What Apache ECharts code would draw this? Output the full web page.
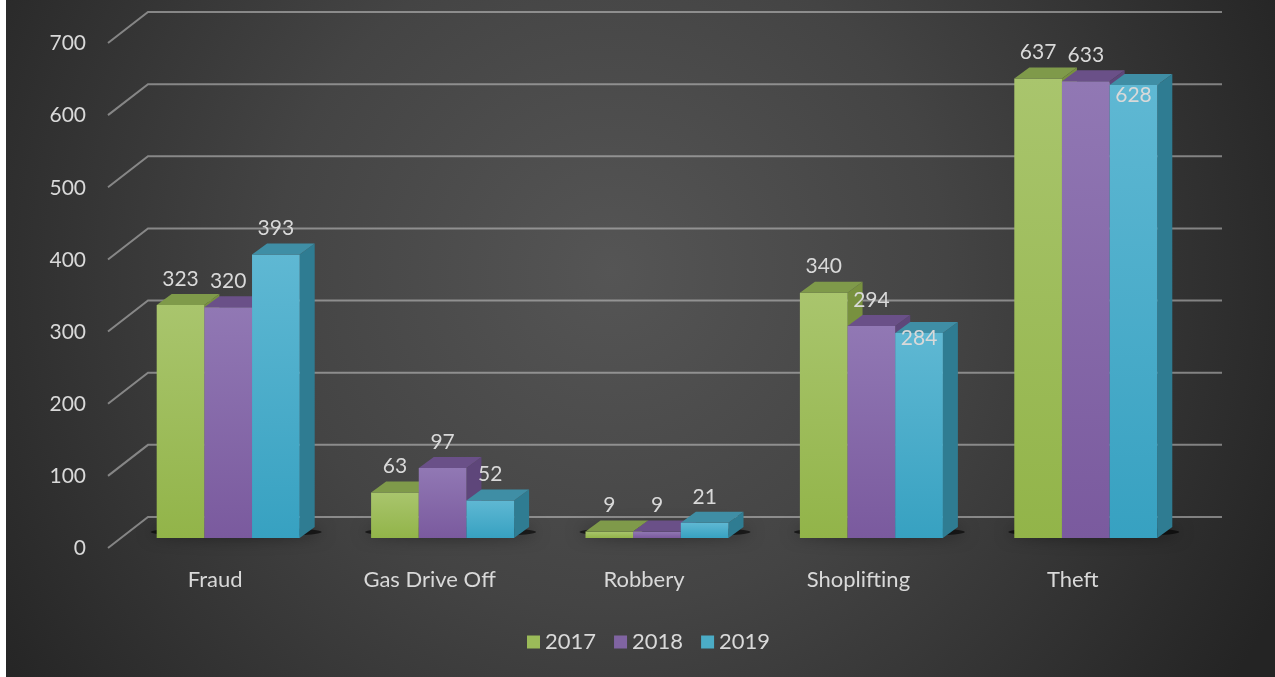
<!DOCTYPE html>
<html>
<head>
<meta charset="utf-8">
<script src="https://cdn.jsdelivr.net/npm/echarts@6/dist/echarts.min.js"></script>
<style>
  html, body { margin: 0; padding: 0; background: #fff; }
  #chart { position: absolute; left: 0; top: 0; width: 1275px; height: 677px; }
  #edge { position: absolute; left: 0; top: 0; width: 6px; height: 677px; background: #fff; }
</style>
</head>
<body>
<div id="chart"></div>
<div id="edge"></div>
<script>
// Incident counts by type and year
const categories = ['Fraud', 'Gas Drive Off', 'Robbery', 'Shoplifting', 'Theft'];
const years = ['2017', '2018', '2019'];
const values2017 = [323, 63, 9, 340, 637];
const values2018 = [320, 97, 9, 294, 633];
const values2019 = [393, 52, 21, 284, 628];
const yTicks = [0, 100, 200, 300, 400, 500, 600, 700];

const seriesValues = [values2017, values2018, values2019];

// Face colours for the extruded bars: front gradient (top, bottom), top face, side face
const palette = [
  { legend: '#9bbb59', front: ['#a9c56d', '#92b449'], top: '#7f9a4a', side: '#78913f' },
  { legend: '#8064a2', front: ['#9178b4', '#7a5a9e'], top: '#6a5088', side: '#5e467a' },
  { legend: '#4bacc6', front: ['#5fb8d3', '#37a1c1'], top: '#3f8ea5', side: '#2f7c92' }
];

const FONT = 'Lato, "Open Sans", sans-serif';
const TEXT = '#d9d9d9';
const DEPTH_X = 15, DEPTH_Y = -11;      // bar extrusion
const BAR_FILL = 0.667;                 // share of a category band used by the three bars
// labels that sit inside their bar to stay clear of neighbours
const labelsInside = { '3-2': 5, '4-2': 10 };

function barRenderer(k) {
  return function (params, api) {
    const ci = api.value(0);
    const v = api.value(1);
    const base = api.coord([ci, 0]);
    const top = api.coord([ci, v]);
    const band = api.size([1, 0])[0];
    const bw = band * BAR_FILL / 3;
    const x0 = base[0] - 1.5 * bw + k * bw;
    const x1 = x0 + bw;
    const ty = top[1], by = base[1];
    const c = palette[k];
    const key = ci + '-' + k;
    const labelY = labelsInside[key] !== undefined ? ty + labelsInside[key] : ty - 26;
    return {
      type: 'group',
      children: [
        {
          type: 'polygon',
          shape: { points: [[x1, ty], [x1 + DEPTH_X, ty + DEPTH_Y], [x1 + DEPTH_X, by + DEPTH_Y], [x1, by]] },
          style: { fill: c.side }
        },
        {
          type: 'rect',
          shape: { x: x0, y: ty, width: bw, height: by - ty },
          style: {
            fill: new echarts.graphic.LinearGradient(0, 0, 0, 1, [
              { offset: 0, color: c.front[0] },
              { offset: 1, color: c.front[1] }
            ])
          }
        },
        {
          type: 'polygon',
          shape: { points: [[x0, ty], [x1, ty], [x1 + DEPTH_X, ty + DEPTH_Y], [x0 + DEPTH_X, ty + DEPTH_Y]] },
          style: { fill: c.top }
        },
        {
          type: 'text',
          z2: 5,
          style: {
            text: String(v),
            x: (x0 + x1) / 2,
            y: labelY,
            align: 'center',
            verticalAlign: 'middle',
            fill: TEXT,
            fontSize: 21,
            fontFamily: FONT
          }
        }
      ]
    };
  };
}

// Soft floor shadow below each group of bars
function shadowRenderer(params, api) {
  const ci = api.value(0);
  const base = api.coord([ci, 0]);
  const band = api.size([1, 0])[0];
  const half = band * BAR_FILL / 2;
  return {
    type: 'ellipse',
    shape: { cx: base[0] + 8, cy: base[1] - 6, rx: half + 14, ry: 5 },
    style: { fill: 'rgba(0,0,0,0.6)', shadowBlur: 16, shadowColor: 'rgba(0,0,0,0.9)' }
  };
}

// Gridlines drawn as floor-to-wall polylines, one per tick
function gridRenderer(params, api) {
  const v = api.value(1);
  const p = api.coord([0, v]);
  const cs = params.coordSys;
  const y = p[1];
  return {
    type: 'polyline',
    shape: { points: [[cs.x - 13, y + 10], [cs.x + 27, y - 21], [cs.x + cs.width + 29, y - 21]] },
    style: { stroke: 'rgba(200,200,200,0.55)', lineWidth: 2, fill: null }
  };
}

const chart = echarts.init(document.getElementById('chart'));

const option = {
  animation: false,
  backgroundColor: new echarts.graphic.RadialGradient(0.48, 0.4, 1.1, [
    { offset: 0, color: '#555555' },
    { offset: 0.45, color: '#444444' },
    { offset: 1, color: '#242424' }
  ]),
  grid: { left: 121, right: 82, top: 33, bottom: 139 },
  legend: {
    data: years,
    left: 522,
    top: 626,
    icon: 'rect',
    itemWidth: 13,
    itemHeight: 13,
    itemGap: 18,
    textStyle: { color: TEXT, fontSize: 22, fontFamily: FONT }
  },
  xAxis: {
    type: 'category',
    data: categories,
    axisLine: { show: false },
    axisTick: { show: false },
    splitLine: { show: false },
    axisLabel: {
      color: TEXT,
      fontSize: 22,
      fontFamily: FONT,
      margin: 31,
      padding: [0, 26, 0, 0]
    }
  },
  yAxis: {
    type: 'value',
    min: yTicks[0],
    max: yTicks[yTicks.length - 1],
    interval: yTicks[1] - yTicks[0],
    axisLine: { show: false },
    axisTick: { show: false },
    splitLine: { show: false },
    axisLabel: {
      color: TEXT,
      fontSize: 21,
      fontFamily: FONT,
      margin: 35,
      verticalAlign: 'top'
    }
  },
  series: [
    {
      type: 'custom',
      name: 'grid',
      silent: true,
      z: 1,
      renderItem: gridRenderer,
      data: yTicks.map(v => [0, v]),
      encode: { x: 0, y: 1 }
    },
    {
      type: 'custom',
      name: 'floor',
      silent: true,
      z: 1,
      renderItem: shadowRenderer,
      data: categories.map((c, i) => [i, 0]),
      encode: { x: 0, y: 1 }
    }
  ].concat(years.map((y, k) => ({
    type: 'custom',
    name: y,
    z: 2,
    itemStyle: { color: palette[k].legend },
    renderItem: barRenderer(k),
    data: seriesValues[k].map((v, i) => [i, v]),
    encode: { x: 0, y: 1 }
  })))
};

chart.setOption(option);
</script>
</body>
</html>
